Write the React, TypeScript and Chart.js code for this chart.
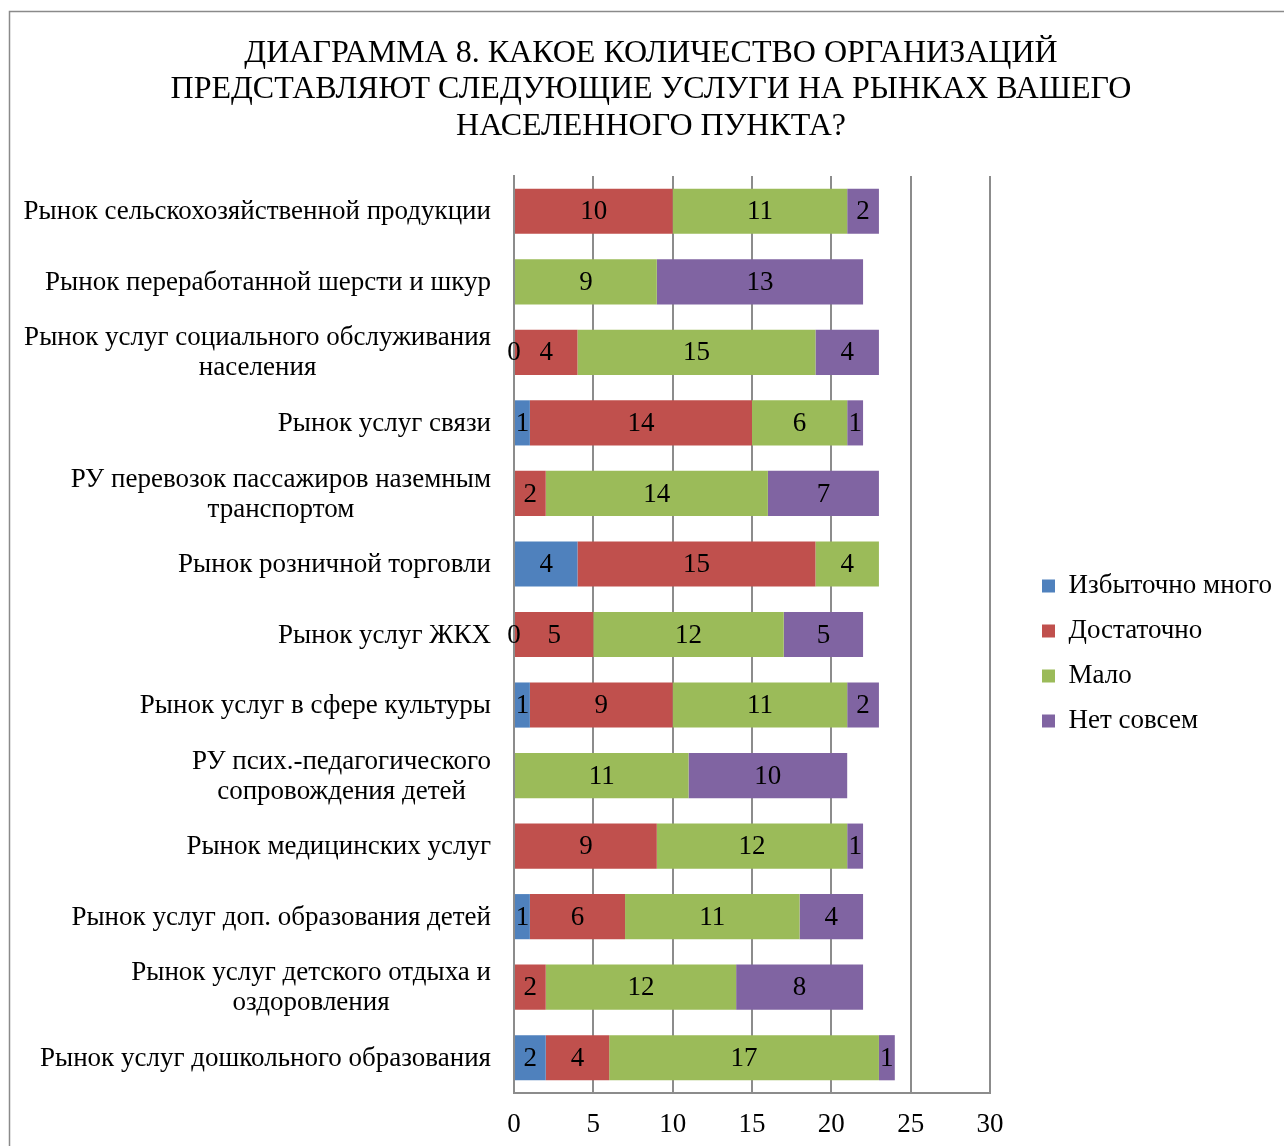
import React, { useEffect, useRef } from "react";
import { Chart, registerables } from "chart.js";

Chart.register(...registerables);

const titleLines = [
  "ДИАГРАММА 8. КАКОЕ КОЛИЧЕСТВО ОРГАНИЗАЦИЙ",
  "ПРЕДСТАВЛЯЮТ СЛЕДУЮЩИЕ УСЛУГИ НА РЫНКАХ ВАШЕГО",
  "НАСЕЛЕННОГО ПУНКТА?",
];

const categories: (string | string[])[] = [
  "Рынок сельскохозяйственной продукции",
  "Рынок переработанной шерсти и шкур",
  ["Рынок услуг социального обслуживания", "населения"],
  "Рынок услуг связи",
  ["РУ перевозок пассажиров наземным", "транспортом"],
  "Рынок розничной торговли",
  "Рынок услуг ЖКХ",
  "Рынок услуг в сфере культуры",
  ["РУ псих.-педагогического", "сопровождения детей"],
  "Рынок медицинских услуг",
  "Рынок услуг доп. образования детей",
  ["Рынок услуг детского отдыха и", "оздоровления"],
  "Рынок услуг дошкольного образования",
];

const seriesNames = ["Избыточно много", "Достаточно", "Мало", "Нет совсем"];

const excessive = [null, null, 0, 1, null, 4, 0, 1, null, null, 1, null, 2];
const enough = [10, null, 4, 14, 2, 15, 5, 9, null, 9, 6, 2, 4];
const few = [11, 9, 15, 6, 14, 4, 12, 11, 11, 12, 11, 12, 17];
const none = [2, 13, 4, 1, 7, null, 5, 2, 10, 1, 4, 8, 1];

const xTicks = [0, 5, 10, 15, 20, 25, 30];

const colors = ["#4F81BD", "#C0504D", "#9BBB59", "#8064A2"];
const FONT = "'Liberation Serif', 'Times New Roman', serif";
const GRID = "#8c8c8c";

const PAD_R = 6;
const PAD_L = 24;
const LEGEND_W = 254;

const framePlugin = {
  id: "frame",
  beforeDraw(chart: any) {
    const ctx = chart.ctx;
    ctx.save();
    ctx.strokeStyle = "#8a8a8a";
    ctx.lineWidth = 1.5;
    ctx.beginPath();
    ctx.moveTo(9.5, chart.height);
    ctx.lineTo(9.5, 11.5);
    ctx.lineTo(chart.width, 11.5);
    ctx.stroke();
    ctx.restore();
  },
};

const categoryLabelPlugin = {
  id: "catLabels",
  afterDraw(chart: any) {
    const ctx = chart.ctx;
    const yScale = chart.scales.y;
    const right = chart.chartArea.left - 23;
    const lh = 30;
    ctx.save();
    ctx.font = `27px ${FONT}`;
    ctx.fillStyle = "#000";
    ctx.textAlign = "center";
    ctx.textBaseline = "middle";
    categories.forEach((lab, i) => {
      const lines = Array.isArray(lab) ? lab : [lab];
      const w = Math.max(...lines.map((l) => ctx.measureText(l).width));
      const cx = right - w / 2;
      const cy = yScale.getPixelForValue(i) + 1;
      const start = cy - ((lines.length - 1) * lh) / 2;
      lines.forEach((l, k) => ctx.fillText(l, cx, start + k * lh));
    });
    ctx.restore();
  },
};

const valueLabelPlugin = {
  id: "valueLabels",
  afterDatasetsDraw(chart: any) {
    const ctx = chart.ctx;
    ctx.save();
    ctx.font = `27px ${FONT}`;
    ctx.fillStyle = "#000";
    ctx.textAlign = "center";
    ctx.textBaseline = "middle";
    chart.data.datasets.forEach((ds: any, di: number) => {
      const meta = chart.getDatasetMeta(di);
      meta.data.forEach((el: any, i: number) => {
        const v = ds.data[i];
        if (v === null || v === undefined) return;
        const p = el.getCenterPoint();
        ctx.fillText(String(v), p.x, p.y + 1);
      });
    });
    ctx.restore();
  },
};

export default function App() {
  const ref = useRef<HTMLCanvasElement>(null);
  useEffect(() => {
    if (!ref.current) return;
    const series = [excessive, enough, few, none];
    const chart = new Chart(ref.current, {
      type: "bar",
      data: {
        labels: categories as any,
        datasets: series.map((d, i) => ({
          label: seriesNames[i],
          data: d as any,
          backgroundColor: colors[i],
          borderWidth: 0,
          categoryPercentage: 0.8,
          barPercentage: 0.8,
        })),
      },
      options: {
        indexAxis: "y",
        animation: false,
        responsive: true,
        maintainAspectRatio: false,
        layout: { padding: { left: PAD_L, right: PAD_R, top: 0, bottom: 0 } },
        scales: {
          y: {
            type: "category",
            axis: "y",
            position: "left",
            stacked: true,
            ticks: { display: false },
            grid: { display: false, drawTicks: false },
            border: { display: true, color: GRID, width: 2 },
            afterFit: (s: any) => {
              s.width = 514 - PAD_L;
            },
          },
          y2: {
            type: "linear",
            axis: "y",
            position: "right",
            display: true,
            ticks: { display: false },
            grid: { display: false, drawTicks: false },
            border: { display: false },
            afterFit: (s: any) => {
              s.width = 1284 - PAD_R - LEGEND_W - 990;
            },
          },
          x: {
            type: "linear",
            stacked: true,
            min: 0,
            max: 30,
            afterBuildTicks: (s: any) => {
              s.ticks = xTicks.map((v) => ({ value: v }));
            },
            ticks: {
              color: "#000",
              font: { family: FONT, size: 27 },
              padding: 16,
            },
            grid: { color: GRID, lineWidth: 2, drawTicks: false },
            border: { display: true, color: GRID, width: 2 },
            afterFit: (s: any) => {
              s.height = 1146 - 1093;
            },
          },
        },
        plugins: {
          title: {
            display: true,
            text: titleLines,
            color: "#000",
            font: { family: FONT, size: 32, weight: "normal", lineHeight: "36.5px" },
            padding: { top: 35, bottom: 31.5 },
          },
          legend: {
            display: true,
            position: "right",
            fullSize: false,
            maxWidth: LEGEND_W,
            title: { display: true, text: "", font: { size: 10, lineHeight: "38px" }, padding: 0 },
            labels: {
              color: "#000",
              boxWidth: 13,
              boxHeight: 13,
              padding: 18,
              font: { family: FONT, size: 27 },
            },
          },
          tooltip: { enabled: false },
        },
      },
      plugins: [framePlugin, categoryLabelPlugin, valueLabelPlugin],
    });
    return () => chart.destroy();
  }, []);
  return (
    <div style={{ position: "absolute", left: 0, top: 0, width: 1284, height: 1146 }}>
      <canvas ref={ref} />
    </div>
  );
}
